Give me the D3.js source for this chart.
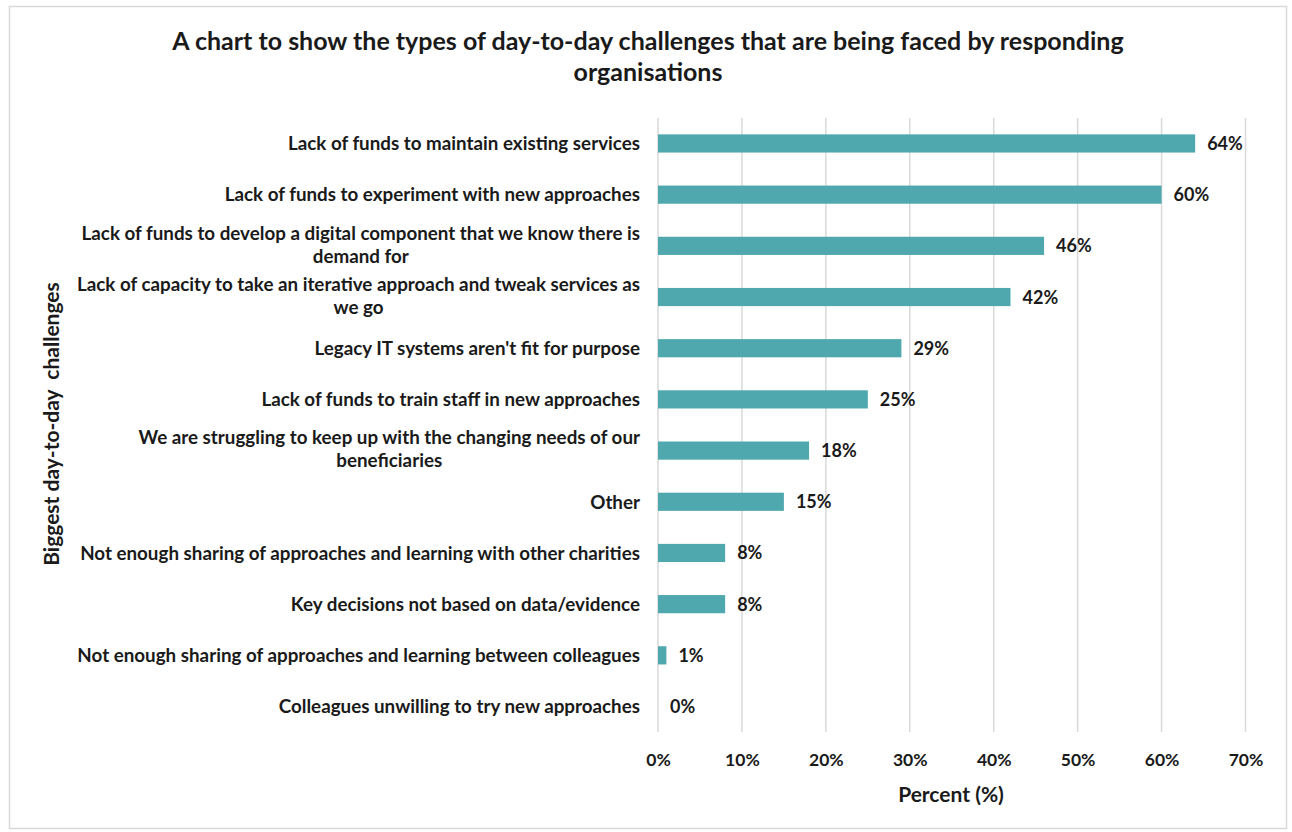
<!DOCTYPE html>
<html>
<head>
<meta charset="utf-8">
<script src="https://cdn.jsdelivr.net/npm/d3@7"></script>
<style>
  html, body { margin: 0; padding: 0; background: #fff; }
  svg text { font-family: Lato, "Open Sans", sans-serif; fill: #1a1a1a; }
</style>
</head>
<body>
<svg id="chart" width="1292" height="832"></svg>
<script>
// Survey responses: biggest day-to-day challenges (percent of organisations)
const categories = [
  "Lack of funds to maintain existing services",
  "Lack of funds to experiment with new approaches",
  "Lack of funds to develop a digital component that we know there is demand for",
  "Lack of capacity to take an iterative approach and tweak services as we go",
  "Legacy IT systems aren't fit for purpose",
  "Lack of funds to train staff in new approaches",
  "We are struggling to keep up with the changing needs of our beneficiaries",
  "Other",
  "Not enough sharing of approaches and learning with other charities",
  "Key decisions not based on data/evidence",
  "Not enough sharing of approaches and learning between colleagues",
  "Colleagues unwilling to try new approaches"
];
const values = [64, 60, 46, 42, 29, 25, 18, 15, 8, 8, 1, 0];
const xTicks = [0, 10, 20, 30, 40, 50, 60, 70];

const titleLines = [
  "A chart to show the types of day-to-day challenges that are being faced by responding",
  "organisations"
];
const xTitle = "Percent (%)";
const yTitle = "Biggest day-to-day  challenges";

const svg = d3.select("#chart");

// outer frame
svg.append("rect")
  .attr("x", 9.5).attr("y", 6.5)
  .attr("width", 1277).attr("height", 822)
  .attr("fill", "#fff").attr("stroke", "#d9d9d9").attr("stroke-width", 1.5);

const plot = { left: 658, right: 1245.5, top: 118, bottom: 732 };

const x = d3.scaleLinear().domain([0, 70]).range([plot.left, plot.right]);
const y = d3.scaleBand().domain(categories).range([plot.top, plot.bottom]).paddingInner(0.645).paddingOuter(0.32);

// vertical gridlines
svg.append("g")
  .selectAll("line")
  .data(xTicks)
  .join("line")
  .attr("x1", d => x(d)).attr("x2", d => x(d))
  .attr("y1", plot.top).attr("y2", plot.bottom)
  .attr("stroke", "#d9d9d9").attr("stroke-width", 1.5);

// x axis tick labels
const xAxis = d3.axisBottom(x).tickValues(xTicks).tickFormat(d => d + "%").tickSize(0).tickPadding(0);
const gx = svg.append("g").attr("transform", `translate(0, 766)`).call(xAxis);
gx.select(".domain").remove();
gx.selectAll("text")
  .attr("dy", 0)
  .style("font-size", "17.5px").style("font-weight", "700")
  .style("font-family", "Lato, sans-serif").attr("fill", "#1a1a1a");

// bars
svg.append("g")
  .selectAll("rect")
  .data(values)
  .join("rect")
  .attr("x", x(0))
  .attr("y", (d, i) => y(categories[i]))
  .attr("width", d => x(d) - x(0))
  .attr("height", y.bandwidth())
  .attr("fill", "#4ea8ad");

// value labels
svg.append("g")
  .selectAll("text")
  .data(values)
  .join("text")
  .attr("x", d => x(d) + 12)
  .attr("y", (d, i) => y(categories[i]) + y.bandwidth() / 2)
  .attr("dy", "0.36em")
  .style("font-size", "18px").style("font-weight", "700")
  .text(d => d + "%");

// category labels, wrapped to fit the label column
const labelRight = 640, labelMax = 580, lineH = 23, labelSize = 18.8;
function wrapWords(text, size) {
  const probe = svg.append("text").style("font-size", size + "px").style("font-weight", "700");
  const words = text.split(" ");
  const lines = [];
  let cur = [];
  for (const w of words) {
    const trial = cur.concat([w]).join(" ");
    probe.text(trial);
    if (probe.node().getComputedTextLength() > labelMax && cur.length) {
      lines.push(cur.join(" "));
      cur = [w];
    } else {
      cur.push(w);
    }
  }
  if (cur.length) lines.push(cur.join(" "));
  probe.remove();
  return lines;
}
const labelG = svg.append("g");
categories.forEach(c => {
  const lines = wrapWords(c, labelSize);
  const cy = y(c) + y.bandwidth() / 2;
  const t = labelG.append("text")
    .attr("text-anchor", lines.length > 1 ? "middle" : "end")
    .style("font-size", labelSize + "px").style("font-weight", "700");
  lines.forEach((ln, k) => {
    t.append("tspan")
      .attr("x", labelRight)
      .attr("y", cy + (k - (lines.length - 1) / 2) * lineH - (lines.length > 1 ? 1.5 : 0))
      .attr("dy", "0.36em")
      .text(ln);
  });
  if (lines.length > 1) {
    // centre wrapped lines on the widest line, right-aligned to the column edge
    let maxW = 0;
    t.selectAll("tspan").each(function() { maxW = Math.max(maxW, this.getComputedTextLength()); });
    t.selectAll("tspan").attr("x", labelRight - maxW / 2);
  }
});

// title
svg.append("text")
  .attr("text-anchor", "middle")
  .style("font-size", "25px").style("font-weight", "700")
  .selectAll("tspan")
  .data(titleLines)
  .join("tspan")
  .attr("x", 648)
  .attr("y", (d, i) => 50 + i * 31)
  .text(d => d);

// axis titles
svg.append("text")
  .attr("x", 951).attr("y", 802)
  .attr("text-anchor", "middle")
  .style("font-size", "21px").style("font-weight", "700")
  .text(xTitle);

svg.append("text")
  .attr("transform", "translate(59, 424) rotate(-90)")
  .attr("text-anchor", "middle")
  .style("font-size", "21px").style("font-weight", "700")
  .attr("xml:space", "preserve")
  .text(yTitle);
</script>
</body>
</html>
